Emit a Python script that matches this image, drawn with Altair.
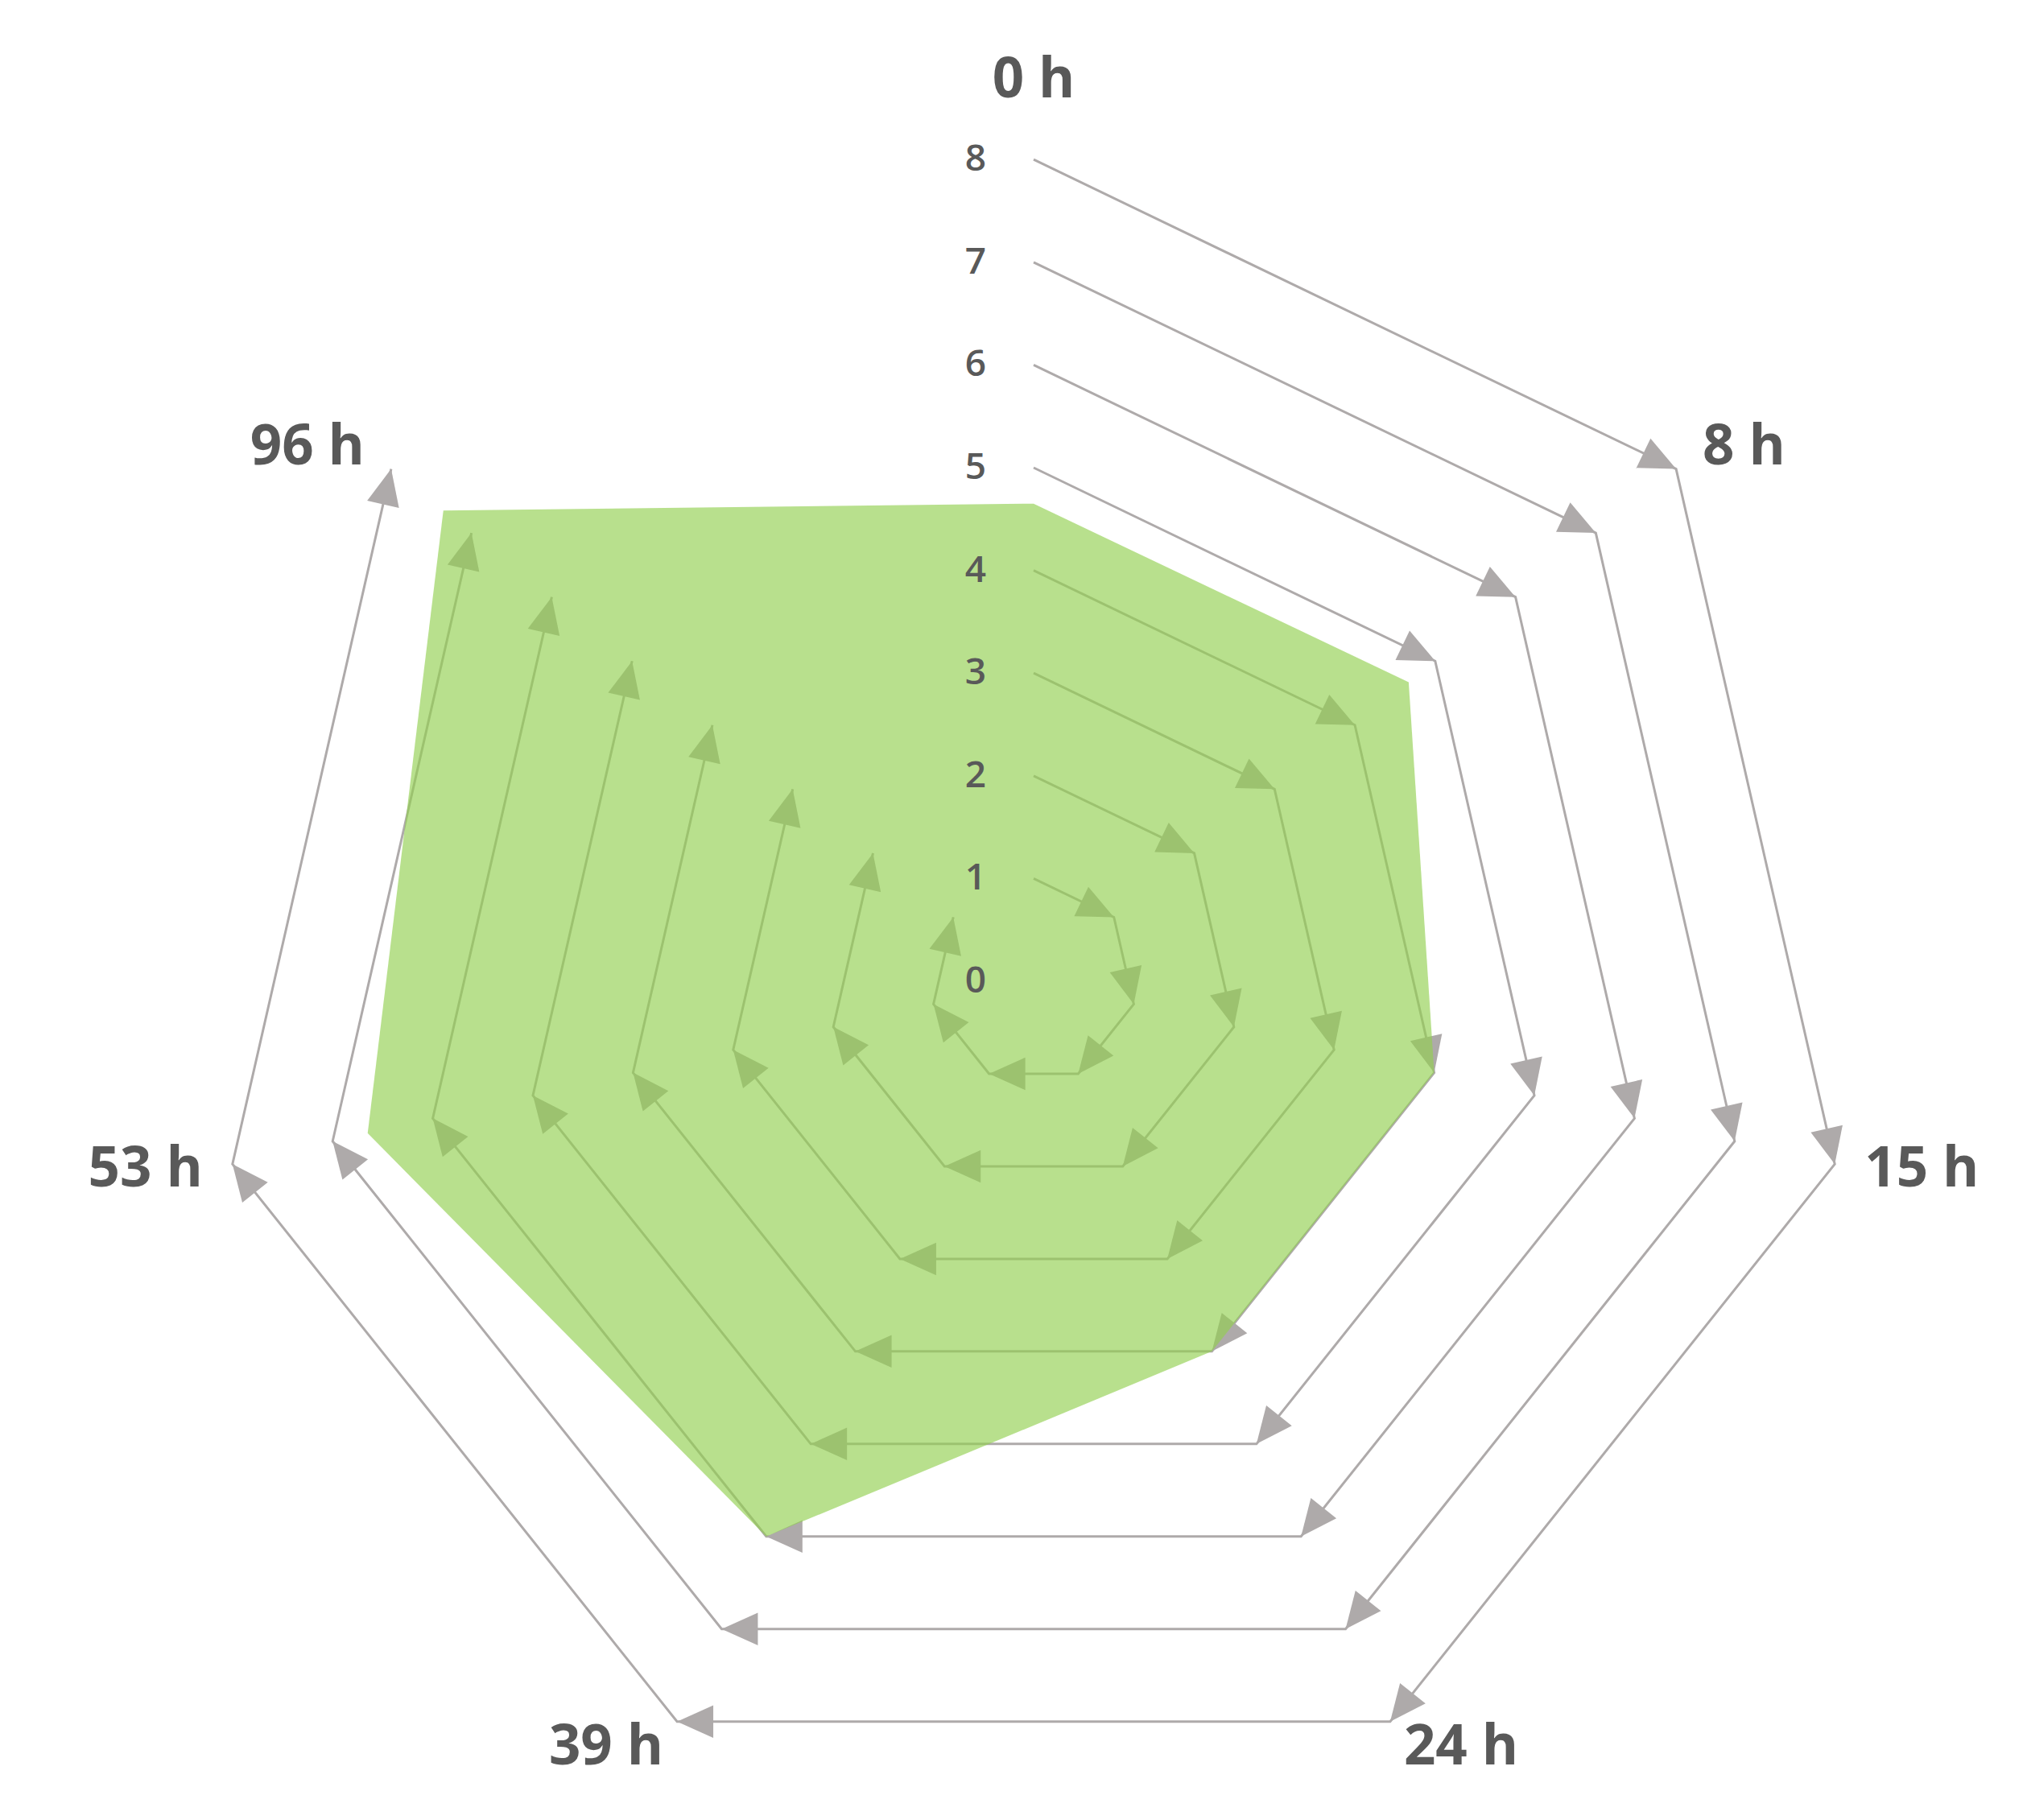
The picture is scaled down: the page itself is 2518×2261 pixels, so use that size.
import math
import pandas as pd
import altair as alt

# ---------------- data ----------------
categories = ["0 h", "8 h", "15 h", "24 h", "39 h", "53 h", "96 h"]
values = [4.65, 4.67, 4.0, 4.0, 6.0, 6.65, 7.35]
levels = [1, 2, 3, 4, 5, 6, 7, 8]
tick_values = [0, 1, 2, 3, 4, 5, 6, 7, 8]
tick_labels = ["0", "1", "2", "3", "4", "5", "6", "7", "8"]

# ---------------- layout ----------------
UNIT = 127.6            # pixels per data unit
W, H = 2500, 2240       # plot area
CX, CY = 1276, 1211     # centre of the radar inside the plot area (px)
xdom = [-CX / UNIT, (W - CX) / UNIT]
ydom = [-(H - CY) / UNIT, CY / UNIT]

GRID = "#AEAAAA"
TEXT = "#595959"
FONT = "Open Sans"

n = len(categories)
thetas = [2 * math.pi * i / n for i in range(n)]


def pt(r, t):
    return r * math.sin(t), r * math.cos(t)


# grid polylines (open: 0 h -> ... -> 96 h)
grid_rows = []
for lv in levels:
    for i, t in enumerate(thetas):
        x, y = pt(lv, t)
        grid_rows.append({"level": lv, "idx": i, "x": x, "y": y})
grid_df = pd.DataFrame(grid_rows)

# arrow heads at every vertex after the first
arrow_rows = []
for lv in levels:
    for i in range(1, n):
        x, y = pt(lv, thetas[i])
        px, py = pt(lv, thetas[i - 1])
        ang = math.degrees(math.atan2(x - px, y - py)) % 360
        arrow_rows.append({"level": lv, "x": x, "y": y, "angle": ang})
arrow_df = pd.DataFrame(arrow_rows)

# data polygon
poly_rows = []
for i, (t, v) in enumerate(zip(thetas, values)):
    x, y = pt(v, t)
    poly_rows.append({"idx": i, "x": x, "y": y, "cat": categories[i], "value": v})
poly_df = pd.DataFrame(poly_rows)

# tick labels on the 0 h axis
tick_df = pd.DataFrame({"x": [0.0] * len(tick_values), "y": tick_values, "label": tick_labels})

# category labels
lab_rows = []
for cat, t in zip(categories, thetas):
    s, c = math.sin(t), math.cos(t)
    vx, vy = pt(8, t)
    if abs(s) < 1e-6:
        dxp, dyp, align = 0, 98, "center"
    else:
        side = 1 if s > 0 else -1
        align = "left" if s > 0 else "right"
        if c > 0.5:
            dxp, dyp = 33 * side, 27
        elif c > -0.5:
            dxp, dyp = 37 * side, -7
        else:
            dxp, dyp = 17 * side, -32
    lab_rows.append({"x": vx + dxp / UNIT, "y": vy + dyp / UNIT, "label": cat, "align": align})
lab_df = pd.DataFrame(lab_rows)

X = alt.X("x:Q", scale=alt.Scale(domain=xdom, nice=False, zero=False), axis=None)
Y = alt.Y("y:Q", scale=alt.Scale(domain=ydom, nice=False, zero=False), axis=None)

grid = alt.Chart(grid_df).mark_line(color=GRID, strokeWidth=3).encode(
    x=X, y=Y, detail="level:N", order=alt.Order("idx:Q")
)

arrows = alt.Chart(arrow_df).mark_point(
    shape="M0,0L-0.9,2L0.9,2Z", filled=True, size=2025, color=GRID, opacity=1, strokeWidth=0
).encode(x=X, y=Y, angle=alt.Angle("angle:Q", scale=None))

poly = alt.Chart(poly_df).mark_line(
    fill="#92D050", fillOpacity=0.65, stroke="#92D050", strokeOpacity=0, strokeWidth=0,
    interpolate="linear-closed"
).encode(x=X, y=Y, order=alt.Order("idx:Q"))

ticks = alt.Chart(tick_df).mark_text(
    font=FONT, fontSize=46, fontWeight=600, color=TEXT, align="center", baseline="middle", dx=-72
).encode(x=X, y=Y, text="label:N")

label_layers = []
for al in ["left", "right", "center"]:
    sub = lab_df[lab_df["align"] == al]
    label_layers.append(
        alt.Chart(sub).mark_text(
            font=FONT, fontSize=69, fontWeight="bold", color=TEXT, align=al, baseline="middle"
        ).encode(x=X, y=Y, text="label:N")
    )

chart = alt.layer(grid, arrows, poly, ticks, *label_layers).properties(
    width=W, height=H, autosize=alt.AutoSizeParams(type="none"), padding=0
).configure_view(stroke=None)

chart.save("out.html", embed_options={"renderer": "svg", "actions": False})
